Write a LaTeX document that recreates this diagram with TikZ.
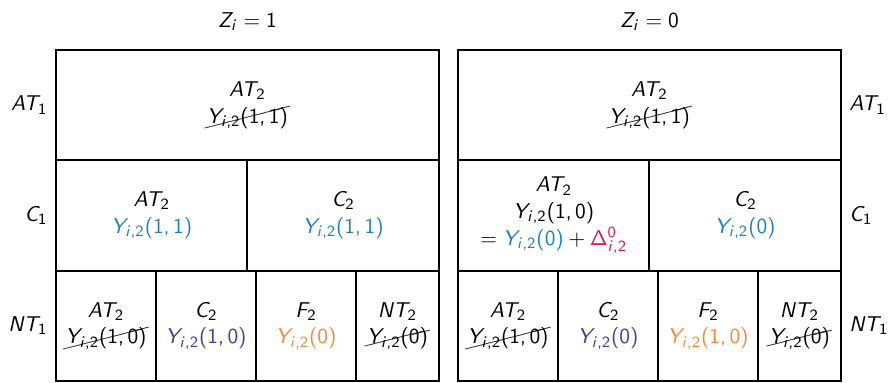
\documentclass[tikz,border=0pt]{standalone}
\usepackage{amsmath,amssymb}
\usepackage{cancel}
\usepackage{xcolor}
\usepackage{tikz}
\usetikzlibrary{positioning}

% sans serif math, as in slides
\SetSymbolFont{operators}{normal}{OT1}{cmss}{m}{n}
\SetSymbolFont{letters}{normal}{OT1}{cmss}{m}{sl}
\mathcode`\,="602C

\definecolor{potblue}{HTML}{1F7FC4}
\definecolor{potindigo}{HTML}{3E3E9E}
\definecolor{potorange}{HTML}{F5883A}
\definecolor{potred}{HTML}{D61F4E}

\begin{document}
\begin{tikzpicture}[node distance=0.06cm,font=\fontsize{10.95}{13.6}\selectfont]
  \tikzstyle{cell}=[draw,line width=1pt,align=center,inner sep=0pt,outer sep=0pt,minimum height=1.99cm]
  \tikzstyle{wide}=[cell,minimum width=6.89cm,minimum height=1.98cm]
  \tikzstyle{half}=[cell,minimum width=3.445cm]
  \tikzstyle{quarter}=[cell,minimum width=1.8cm]
  \tikzstyle{narrow}=[cell,minimum width=1.49cm]
  \useasboundingbox (0,0) rectangle (16.038,-6.894);

  % Z_i = 1
  \node[wide,anchor=north west] (z1at) at (1.008,-0.9) {$AT_2$\\$\cancel{Y_{i,2}(1,1)}$};
  \node[half,anchor=north west] (z1cat) at (z1at.south west) {$AT_2$\\$\color{potblue}Y_{i,2}(1,1)$};
  \node[half,right=0pt of z1cat] (z1cc) {$C_2$\\$\color{potblue}Y_{i,2}(1,1)$};
  \node[quarter,anchor=north west] (z1ntat) at (z1cat.south west) {$AT_2$\\$\cancel{Y_{i,2}(1,0)}$};
  \node[quarter,right=0pt of z1ntat] (z1ntc) {$C_2$\\$\color{potindigo}Y_{i,2}(1,0)$};
  \node[quarter,right=0pt of z1ntc] (z1ntf) {$F_2$\\$\color{potorange}Y_{i,2}(0)$};
  \node[narrow,right=0pt of z1ntf] (z1ntnt) {$NT_2$\\$\cancel{Y_{i,2}(0)}$};
  \node[above=0.22cm of z1at] (z1) {$Z_i = 1$};

  % Z_i = 0
  \node[wide,anchor=north west] (z0at) at (8.244,-0.9) {$AT_2$\\$\cancel{Y_{i,2}(1,1)}$};
  \node[half,anchor=north west] (z0cat) at (z0at.south west) {$AT_2$\\$Y_{i,2}(1,0)$\\$= {\color{potblue}Y_{i,2}(0)} + {\color{potred}\Delta^0_{i,2}}$};
  \node[half,right=0pt of z0cat] (z0cc) {$C_2$\\$\color{potblue}Y_{i,2}(0)$};
  \node[quarter,anchor=north west] (z0ntat) at (z0cat.south west) {$AT_2$\\$\cancel{Y_{i,2}(1,0)}$};
  \node[quarter,right=0pt of z0ntat] (z0ntc) {$C_2$\\$\color{potindigo}Y_{i,2}(0)$};
  \node[quarter,right=0pt of z0ntc] (z0ntf) {$F_2$\\$\color{potorange}Y_{i,2}(1,0)$};
  \node[narrow,right=0pt of z0ntf] (z0ntnt) {$NT_2$\\$\cancel{Y_{i,2}(0)}$};
  \node[above=0.22cm of z0at] (z0) {$Z_i = 0$};

  % row labels
  \node[left=0.03cm of z1at] (lat) {$AT_1$};
  \node[left=0.03cm of z1cat] (lc) {$C_1$};
  \node[left=0.03cm of z1ntat] (lnt) {$NT_1$};
  \node[right=0.03cm of z0at] (rat) {$AT_1$};
  \node[right=0.03cm of z0cc] (rc) {$C_1$};
  \node[right=0.03cm of z0ntnt] (rnt) {$NT_1$};
\end{tikzpicture}
\end{document}
